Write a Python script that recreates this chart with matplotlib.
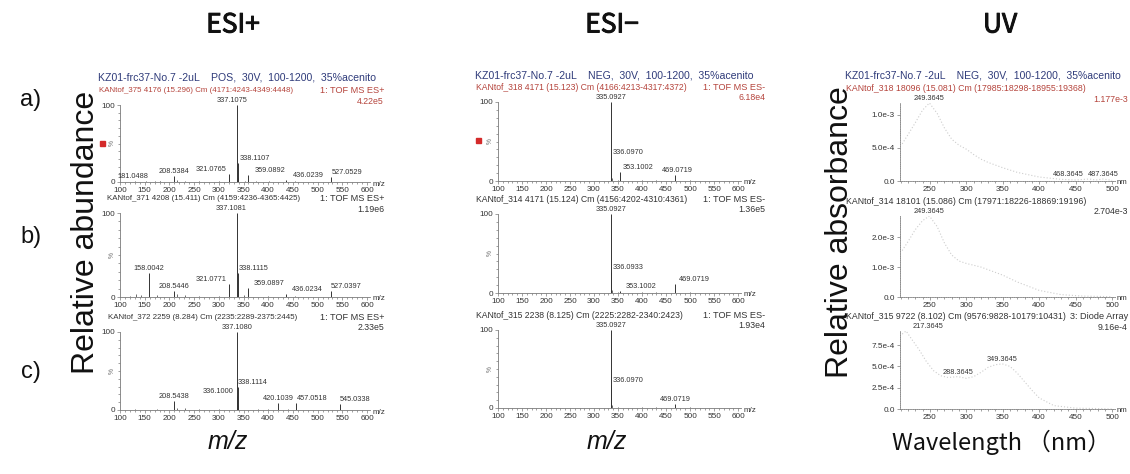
import matplotlib
matplotlib.use("Agg")
import matplotlib.pyplot as plt
import matplotlib.patheffects as pe
from matplotlib.lines import Line2D
from matplotlib.ticker import FixedLocator, MultipleLocator

W, H = 1130, 474

# ---------------- data ----------------
# ESI+ : labelled peaks (m/z, relative abundance %)
pos_a_mz = [181.0488, 208.5384, 321.0765, 337.1075, 338.1107, 359.0892, 436.0239, 527.0529]
pos_a_int = [1.5, 8, 10, 100, 25, 9, 2, 6]
pos_b_mz = [158.0042, 208.5446, 321.0771, 337.1081, 338.1115, 359.0897, 436.0234, 527.0397]
pos_b_int = [28, 7, 15, 100, 28, 11, 4, 7]
pos_c_mz = [208.5438, 336.1000, 337.1080, 338.1114, 420.1039, 457.0518, 545.0338]
pos_c_int = [12, 18, 100, 29, 9, 9, 8]

# ESI- : labelled peaks
neg_a_mz = [335.0927, 336.0970, 353.1002, 469.0719]
neg_a_int = [100, 30, 12, 7]
neg_b_mz = [335.0927, 336.0933, 353.1002, 469.0719]
neg_b_int = [100, 27, 3, 11]
neg_c_mz = [335.0927, 336.0970, 469.0719]
neg_c_int = [100, 29, 5]

# small unlabelled peaks
pos_a_small_mz = [130, 152, 170, 215, 232, 260, 300, 339.1, 352, 375, 401, 455]
pos_a_small_int = [1, 1.5, 1, 2, 1, 1, 1, 6, 1.5, 1, 1, 1]
pos_b_small_mz = [120, 132, 142, 175, 215, 232, 260, 300, 339.1, 351, 400, 455]
pos_b_small_int = [1.5, 3, 2, 2, 3, 2, 1, 1.5, 7, 2, 1, 1]
pos_c_small_mz = [130, 175, 215, 232, 260, 300, 339.1, 380, 400, 440]
pos_c_small_int = [1, 1, 3, 2, 1, 1, 6, 1, 1.5, 1]
neg_small_mz = [337.09, 350, 400, 430, 500]
neg_small_int = [4, 1, 1, 1, 1]

# UV : wavelength (nm) and absorbance
uv_a_wl = [212, 220, 230, 240, 249.3645, 260, 270, 280, 290, 300, 310, 320, 330, 340, 350, 370,
           400, 430, 450, 468.3645, 478, 487.3645, 500]
uv_a_abs = [5.6e-4, 7.0e-4, 8.8e-4, 1.07e-3, 1.177e-3, 1.02e-3, 8.0e-4, 6.3e-4, 5.4e-4, 4.8e-4,
            4.0e-4, 3.3e-4, 2.8e-4, 2.4e-4, 2.0e-4, 1.3e-4, 6e-5, 2.5e-5, 1.5e-5, 3e-5, 1.5e-5,
            3e-5, 1e-5]
uv_b_wl = [212, 220, 230, 240, 249.3645, 260, 270, 280, 290, 300, 320, 340, 350, 370, 400, 430,
           460, 500]
uv_b_abs = [1.55e-3, 1.85e-3, 2.25e-3, 2.55e-3, 2.704e-3, 2.35e-3, 1.8e-3, 1.4e-3, 1.2e-3,
            1.12e-3, 1.0e-3, 8.2e-4, 7.3e-4, 5.0e-4, 2.2e-4, 8e-5, 3e-5, 1e-5]
uv_c_wl = [212, 217.3645, 225, 235, 245, 255, 265, 275, 288.3645, 300, 310, 320, 330, 340,
           349.3645, 360, 370, 380, 390, 400, 420, 450, 480, 500]
uv_c_abs = [8.8e-4, 9.16e-4, 8.2e-4, 7.0e-4, 5.6e-4, 4.5e-4, 3.9e-4, 3.7e-4, 3.8e-4, 3.6e-4,
            3.8e-4, 4.3e-4, 4.9e-4, 5.2e-4, 5.3e-4, 5.0e-4, 4.2e-4, 3.2e-4, 2.2e-4, 1.3e-4,
            4e-5, 1e-5, 5e-6, 0]
uv_a_peaks = [249.3645, 468.3645, 487.3645]
uv_b_peaks = [249.3645]
uv_c_peaks = [217.3645, 288.3645, 349.3645]

# header texts
run_pos = "KZ01-frc37-No.7 -2uL    POS,  30V,  100-1200,  35%acenito"
run_neg = "KZ01-frc37-No.7 -2uL    NEG,  30V,  100-1200,  35%acenito"
pos_scans = ["KANtof_375 4176 (15.296) Cm (4171:4243-4349:4448)",
             "KANtof_371 4208 (15.411) Cm (4159:4236-4365:4425)",
             "KANtof_372 2259 (8.284) Cm (2235:2289-2375:2445)"]
neg_scans = ["KANtof_318 4171 (15.123) Cm (4166:4213-4317:4372)",
             "KANtof_314 4171 (15.124) Cm (4156:4202-4310:4361)",
             "KANtof_315 2238 (8.125) Cm (2225:2282-2340:2423)"]
uv_scans = ["KANtof_318 18096 (15.081) Cm (17985:18298-18955:19368)",
            "KANtof_314 18101 (15.086) Cm (17971:18226-18869:19196)",
            "KANtof_315 9722 (8.102) Cm (9576:9828-10179:10431)"]
pos_max = ["4.22e5", "1.19e6", "2.33e5"]
neg_max = ["6.18e4", "1.36e5", "1.93e4"]
uv_max = ["1.177e-3", "2.704e-3", "9.16e-4"]
uv_top = [1.177e-3, 2.704e-3, 9.16e-4]
uv_ticks = [[0, 5e-4, 1e-3], [0, 1e-3, 2e-3], [0, 2.5e-4, 5e-4, 7.5e-4]]

# label shifts (pixels) used by the instrument software to avoid overlaps
pos_dx = [[-27, 0, -18, -5, 17, 22, 22, 16],
          [0, 0, -18, -6, 16, 21, 21, 15],
          [0, -19, 0, 15, 0, 16, 15]]
neg_dx = [[0, 17, 19, 2], [0, 17, 22, 19], [0, 17, 0]]
uv_dx = [[0, -21, 0], [0], [22, 0, 0]]

NAVY = "#2f3b7a"
RED = "#b5443c"
TXT = "#333333"
AXC = "#7a7a7a"
LAB = "Liberation Sans"
JP = ["Noto Sans CJK JP", "DejaVu Sans"]
PEAKS = 5.3

fig = plt.figure(figsize=(W / 100, H / 100), dpi=100)
fig.patch.set_facecolor("white")


def px_axes(x0, x1, y100, y0):
    return fig.add_axes([x0 / W, 1 - y0 / H, (x1 - x0) / W, (y0 - y100) / H])


def ftext(x, y, s, **kw):
    kw.setdefault("family", LAB)
    return fig.text(x / W, 1 - y / H, s, **kw)


def base_style(ax, dotted=False):
    for s in ["top", "right"]:
        ax.spines[s].set_visible(False)
    for s in ["left", "bottom"]:
        ax.spines[s].set_color(AXC)
        ax.spines[s].set_linewidth(0.6)
        if dotted:
            ax.spines[s].set_linestyle((0, (1, 1.2)))
    ax.patch.set_alpha(0)
    ax.tick_params(which="both", direction="out", colors=AXC, labelcolor=TXT,
                   labelsize=5.9, pad=1.5, width=0.5)
    ax.tick_params(which="major", length=2.2)
    ax.tick_params(which="minor", length=1.2)
    for lab in ax.get_xticklabels() + ax.get_yticklabels():
        lab.set_family(LAB)


def header(x_left, x_right, y100, scan, peak_max, first, run, right_txt, fs, run_fs):
    col = RED if first else TXT
    if first:
        ftext(x_left - 1, y100 - 27, run, color=NAVY, fontsize=run_fs, va="center")
    ftext(x_left, y100 - 14.5, scan, color=col, fontsize=fs, va="center")
    if right_txt:
        ftext(x_right, y100 - 14.5, right_txt, color=col, fontsize=6.6, va="center",
              ha="right")
    ftext(x_right, y100 - 4, peak_max, color=col, fontsize=6.3, va="center", ha="right")


def ms_panel(x0, x1, y100, y0, mz, inten, dx, small_mz, small_int):
    ax = px_axes(x0, x1, y100, y0)
    ax.set_xlim(100, 606)
    ax.set_ylim(0, 100)
    ax.vlines(small_mz, 0, small_int, color="#555555", lw=0.6)
    ax.vlines(mz, 0, inten, color="#333333", lw=0.7)
    for m, v, d in zip(mz, inten, dx):
        ax.annotate(f"{m:.4f}", xy=(m, v), xytext=(d, 1), textcoords="offset pixels",
                    ha="center", va="bottom", fontsize=PEAKS, color=TXT, family=LAB,
                    annotation_clip=False)
    ax.xaxis.set_major_locator(FixedLocator(range(100, 601, 50)))
    ax.xaxis.set_minor_locator(MultipleLocator(10))
    ax.yaxis.set_major_locator(FixedLocator([0, 100]))
    ax.yaxis.set_minor_locator(MultipleLocator(10))
    base_style(ax)
    ax.annotate("m/z", xy=(1, 0), xycoords="axes fraction", xytext=(3, -2),
                textcoords="offset pixels", ha="left", va="center", fontsize=5.8,
                color=TXT, family=LAB)
    ax.annotate("%", xy=(0, 0.5), xycoords="axes fraction", xytext=(-8, 0),
                textcoords="offset pixels", rotation=90, ha="center", va="center",
                fontsize=4.8, color="#666666", family=LAB)
    return ax


def uv_panel(x0, x1, y100, y0, wl, ab, peaks, dx, top, ticks):
    ax = px_axes(x0, x1, y100, y0)
    ax.set_xlim(209, 504)
    ax.set_ylim(0, top)
    ax.plot(wl, ab, color="#cdcdcd", lw=0.8, ls=(0, (1, 1.8)))
    for p, d in zip(peaks, dx):
        v = ab[wl.index(p)]
        ax.annotate(f"{p:.4f}", xy=(p, v), xytext=(d, 1), textcoords="offset pixels",
                    ha="center", va="bottom", fontsize=PEAKS, color=TXT, family=LAB,
                    annotation_clip=False)
    ax.xaxis.set_major_locator(FixedLocator(range(250, 501, 50)))
    ax.xaxis.set_minor_locator(MultipleLocator(10))
    ax.yaxis.set_major_locator(FixedLocator(ticks))
    ax.set_yticklabels(["0.0"] + [f"{t:.1e}".replace("e-0", "e-") for t in ticks[1:]])
    base_style(ax, dotted=True)
    ax.annotate("nm", xy=(1, 0), xycoords="axes fraction", xytext=(2, -2),
                textcoords="offset pixels", ha="left", va="center", fontsize=5.6,
                color=TXT, family=LAB)
    return ax


# ---------------- ESI+ column ----------------
pos_rows = [(105, 182), (213, 297), (332, 410)]
pos_left = [99, 107, 108]
pos_sets = [(pos_a_mz, pos_a_int, pos_a_small_mz, pos_a_small_int),
            (pos_b_mz, pos_b_int, pos_b_small_mz, pos_b_small_int),
            (pos_c_mz, pos_c_int, pos_c_small_mz, pos_c_small_int)]
for i, ((y100, y0), (mz, it, smz, sit)) in enumerate(zip(pos_rows, pos_sets)):
    ms_panel(120, 370, y100, y0, mz, it, pos_dx[i], smz, sit)
    header(pos_left[i], 384, y100, pos_scans[i], pos_max[i], i == 0, run_pos,
           "1: TOF MS ES+", 5.7, 7.6)

# ---------------- ESI- column ----------------
neg_rows = [(102, 181), (214, 293), (330, 408)]
neg_sets = [(neg_a_mz, neg_a_int), (neg_b_mz, neg_b_int), (neg_c_mz, neg_c_int)]
for i, ((y100, y0), (mz, it)) in enumerate(zip(neg_rows, neg_sets)):
    ms_panel(498, 741, y100, y0, mz, it, neg_dx[i], neg_small_mz, neg_small_int)
    header(476, 765, y100, neg_scans[i], neg_max[i], i == 0, run_neg,
           "1: TOF MS ES-", 6.2, 7.6)

# ---------------- UV column ----------------
uv_rows = [(103, 181), (216, 297), (331, 409)]
uv_sets = [(uv_a_wl, uv_a_abs, uv_a_peaks), (uv_b_wl, uv_b_abs, uv_b_peaks),
           (uv_c_wl, uv_c_abs, uv_c_peaks)]
for i, ((y100, y0), (wl, ab, pk)) in enumerate(zip(uv_rows, uv_sets)):
    uv_panel(900, 1115, y100, y0, wl, ab, pk, uv_dx[i], uv_top[i], uv_ticks[i])
    header(846, 1128, y100, uv_scans[i], uv_max[i], i == 0, run_neg,
           "3: Diode Array" if i == 2 else None, 6.3, 7.5)

# red marks from the original scan
for x, y in [(102, 143), (478, 140)]:
    fig.add_artist(Line2D([x / W], [1 - y / H], marker="s", markersize=3.6, color="#d42a2a",
                          transform=fig.transFigure))

# ---------------- big labels ----------------
thick = [pe.withStroke(linewidth=0.7, foreground="#111111")]
for x, s in [(233, "ESI+"), (612, "ESI\u2212"), (1000, "UV")]:
    ftext(x, 25, s, fontsize=19, ha="center", va="center", family=JP, color="#111111",
          path_effects=thick)
for y, s in [(100, "a)"), (237, "b)"), (372, "c)")]:
    ftext(31, y, s, fontsize=17, ha="center", va="center", color="#111111")
ftext(86, 232, "Relative abundance", rotation=90, fontsize=23, ha="center", va="center",
      color="#111111")
ftext(840, 232, "Relative absorbance", rotation=90, fontsize=23, ha="center", va="center",
      color="#111111")
ftext(228, 442, "m/z", fontsize=18, style="italic", ha="center", va="center", color="#111111")
ftext(607, 442, "m/z", fontsize=18, style="italic", ha="center", va="center", color="#111111")
ftext(1001, 442, "Wavelength \uff08nm\uff09", fontsize=17, ha="center", va="center",
      family=JP, color="#111111")

fig.savefig("out.png", dpi=100)
